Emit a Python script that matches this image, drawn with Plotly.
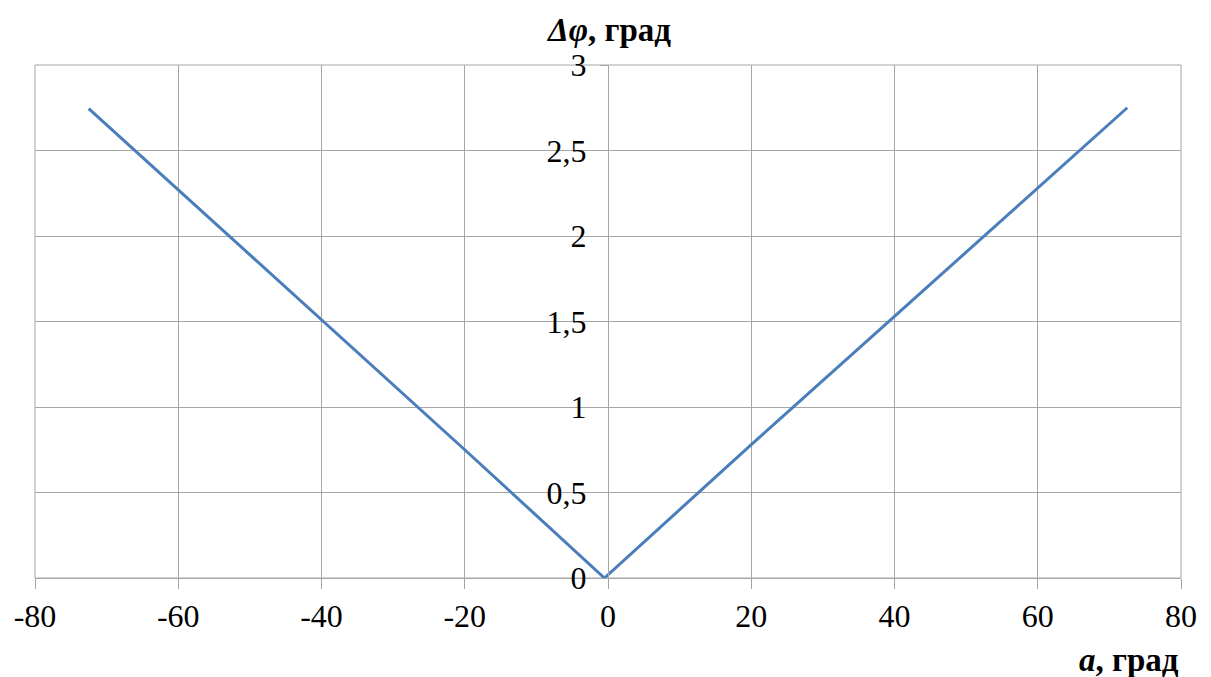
import plotly.graph_objects as go

# Data
alpha_deg = [-72.5, -60, -40, -20, -0.5, 20, 40, 60, 72.5]
dphi_deg = [2.745, 2.27, 1.51, 0.75, 0.0, 0.78, 1.53, 2.28, 2.75]

x_ticks = [-80, -60, -40, -20, 0, 20, 40, 60, 80]
x_ticktext = ["-80", "-60", "-40", "-20", "0", "20", "40", "60", "80"]
y_ticks = [0, 0.5, 1, 1.5, 2, 2.5, 3]
y_ticktext = ["0", "0,5", "1", "1,5", "2", "2,5", "3"]

FONT = "Liberation Serif"
GRID = "#a6a6a6"

fig = go.Figure()
fig.add_trace(go.Scatter(
    x=alpha_deg, y=dphi_deg, mode="lines",
    line=dict(color="#4a7ebb", width=3),
    showlegend=False, hoverinfo="skip",
))

fig.update_layout(
    width=1211, height=677,
    margin=dict(l=35, r=30, t=65, b=99),
    paper_bgcolor="white", plot_bgcolor="white",
    font=dict(family=FONT, size=32, color="black"),
    xaxis=dict(
        range=[-80, 80], tickmode="array", tickvals=x_ticks, ticktext=x_ticktext,
        showgrid=True, gridcolor=GRID, gridwidth=1,
        zeroline=False, showline=True, linecolor=GRID, linewidth=1,
        ticks="outside", ticklen=10, tickcolor=GRID, tickwidth=1,
        tickfont=dict(family=FONT, size=32, color="black"),
        mirror=False, fixedrange=True, automargin=False,
    ),
    yaxis=dict(
        range=[0, 3], tickmode="array", tickvals=y_ticks, ticktext=y_ticktext,
        showgrid=True, gridcolor=GRID, gridwidth=1,
        zeroline=False, showline=True, linecolor=GRID, linewidth=1,
        anchor="free", position=0.5,
        ticks="outside", ticklen=8, tickcolor=GRID, tickwidth=1,
        tickfont=dict(family=FONT, size=32, color="black"),
        ticklabelstandoff=7, fixedrange=True,
    ),
    shapes=[dict(type="rect", xref="paper", yref="paper", x0=0, y0=0, x1=1, y1=1,
                 line=dict(color=GRID, width=1), fillcolor="rgba(0,0,0,0)", layer="below")],
    annotations=[
        dict(text="<b><i>Δφ</i>, град</b>", xref="x", yref="paper", x=0, y=1,
             xanchor="center", yanchor="middle", yshift=35, showarrow=False,
             font=dict(family=FONT, size=33, color="black")),
        dict(text="<b><i>a</i>, град</b>", xref="paper", yref="paper", x=1, y=0,
             xanchor="right", yanchor="middle", yshift=-82, showarrow=False,
             font=dict(family=FONT, size=33, color="black")),
    ],
)

fig.write_html("out.html")
